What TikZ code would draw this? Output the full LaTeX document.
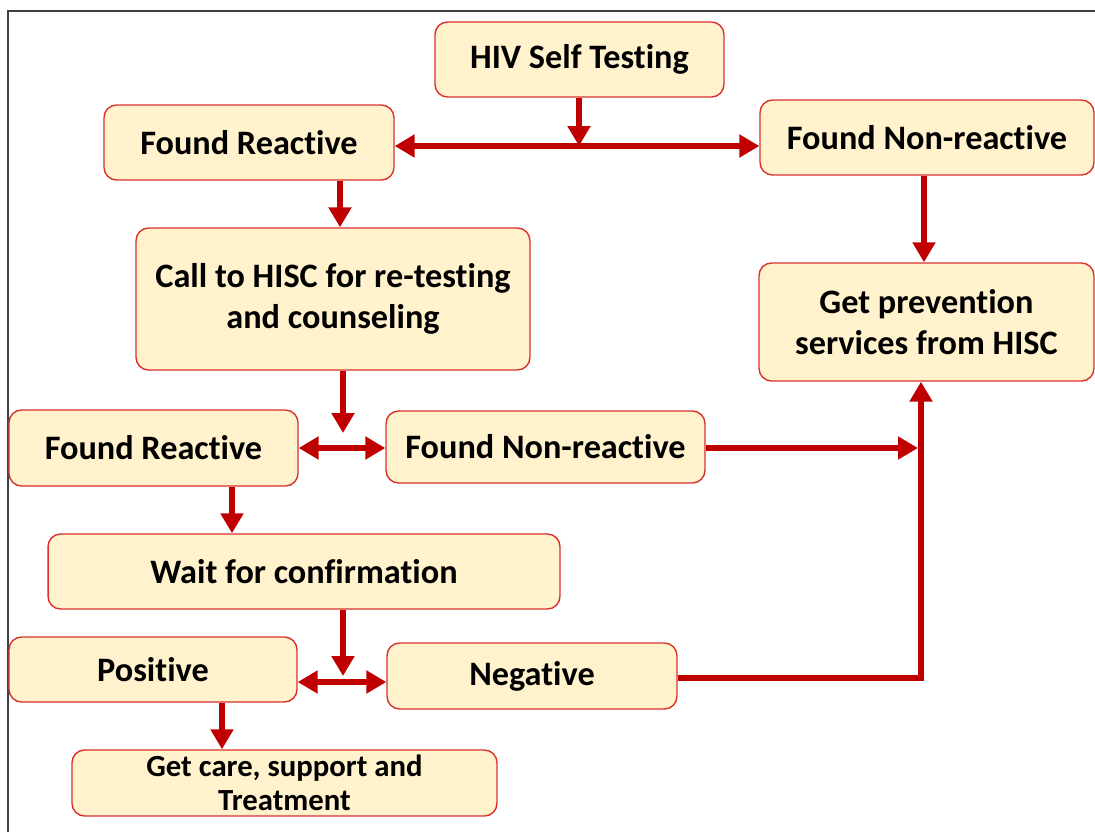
\documentclass[tikz,border=0pt]{standalone}
\usepackage{fontspec}
\setmainfont{Carlito}[Ligatures=NoCommon]
\usetikzlibrary{arrows.meta}
\definecolor{arrowred}{HTML}{C00000}
\definecolor{boxfill}{HTML}{FFF2CC}
\definecolor{boxline}{HTML}{D9302C}

\begin{document}
\begin{tikzpicture}[x=0.02cm, y=-0.02cm, >={Triangle[length=0.4cm,width=0.44cm]},
    box/.style={draw=boxline, fill=boxfill, line width=0.8pt, rounded corners=0.25cm,
        align=center, inner sep=0pt, font=\fontsize{19.5}{23.5}\selectfont\bfseries},
    arr/.style={->, line width=0.12cm, arrowred}]
    \useasboundingbox (0,0) rectangle (1095,832);
    \draw[line width=0.8pt, black!75] (8,832) -- (8,11) -- (1095,11);

    \node[box, minimum width=5.78cm, minimum height=1.5cm] (selftest) at (579.5,59.5) {HIV Self Testing};
    \node[box, minimum width=5.8cm, minimum height=1.5cm] (reactA) at (249,142.5) {Found Reactive};
    \node[box, minimum width=6.68cm, minimum height=1.5cm] (nonreactA) at (927,137.5) {Found Non-reactive};
    \node[box, minimum width=7.88cm, minimum height=2.84cm] (call) at (333,299) {Call to HISC for re-testing\\and counseling};
    \node[box, minimum width=6.7cm, minimum height=2.36cm] (prev) at (926.5,322) {Get prevention\\services from HISC};
    \node[box, minimum width=5.78cm, minimum height=1.52cm] (reactB) at (153.5,448) {Found Reactive};
    \node[box, minimum width=6.38cm, minimum height=1.44cm] (nonreactB) at (545.5,447) {Found Non-reactive};
    \node[box, minimum width=10.24cm, minimum height=1.5cm] (wait) at (304,571.5) {Wait for confirmation};
    \node[box, minimum width=5.76cm, minimum height=1.3cm] (pos) at (153,669.5) {Positive};
    \node[box, minimum width=5.8cm, minimum height=1.32cm] (neg) at (532,676) {Negative};
    \node[box, minimum width=8.5cm, minimum height=1.32cm, font=\fontsize{17.5}{19.5}\selectfont\bfseries] (care) at (284.5,783) {Get care, support and\\Treatment};

    \coordinate (split1) at (579,146);
    \coordinate (split2) at (343,448);
    \coordinate (drop2) at (343,433);
    \coordinate (join1) at (918,448);
    \coordinate (split3) at (343,682);
    \coordinate (drop3) at (343,676);
    \coordinate (corner) at (921,678);

    \draw[arr] (selftest.south -| split1) -- (split1);
    \draw[arr, <->] (reactA.east |- split1) -- (nonreactA.west |- split1);
    \draw[arr] (reactA.south -| 340,0) -- (call.north -| 340,0);
    \draw[arr] (nonreactA.south -| 924,0) -- (prev.north -| 924,0);
    \draw[arr] (call.south -| drop2) -- (drop2);
    \draw[arr, <->] (reactB.east |- split2) -- (nonreactB.west |- split2);
    \draw[arr] (nonreactB.east |- join1) -- (join1);
    \draw[arr] (reactB.south -| 232,0) -- (wait.north -| 232,0);
    \draw[arr] (wait.south -| drop3) -- (drop3);
    \draw[arr, <->] (pos.east |- split3) -- (neg.west |- split3);
    \draw[arr] (neg.east |- corner) -- (corner) -- (prev.south -| corner);
    \draw[arr] (pos.south -| 222,0) -- (care.north -| 222,0);
\end{tikzpicture}
\end{document}
